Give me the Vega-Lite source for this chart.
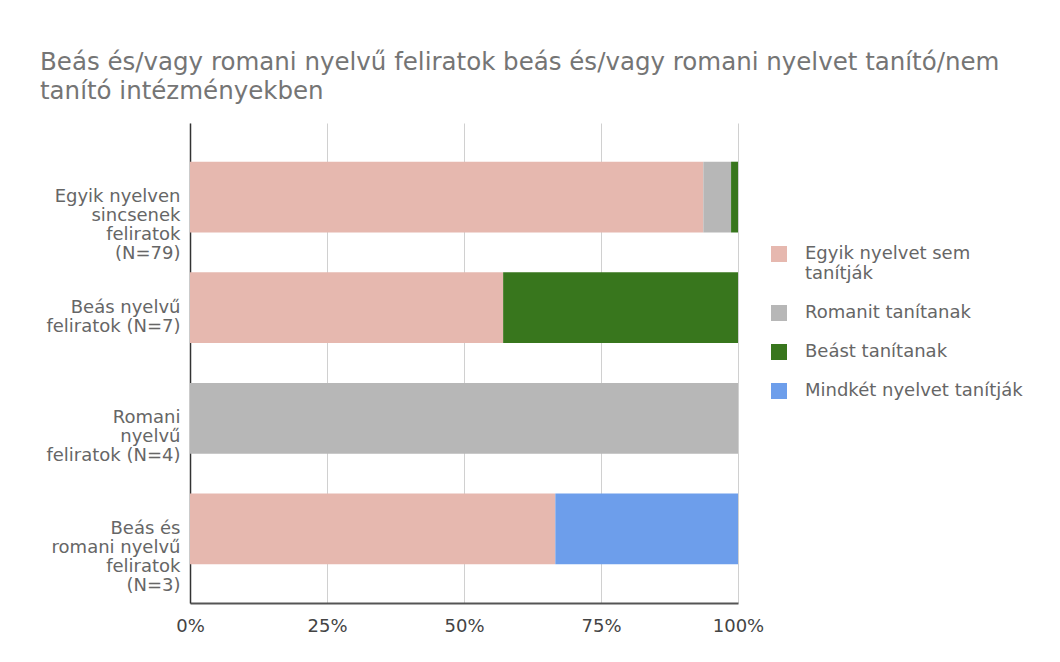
{
  "$schema": "https://vega.github.io/schema/vega-lite/v6.json",
  "width": 548,
  "height": 480,
  "autosize": {"type": "none"},
  "padding": {"left": 190, "top": 123, "right": 322, "bottom": 59},
  "background": "white",
  "config": {
    "font": "DejaVu Sans",
    "view": {"stroke": null}
  },
  "title": {
    "text": ["Beás és/vagy romani nyelvű feliratok beás és/vagy romani nyelvet tanító/nem", "tanító intézményekben"],
    "anchor": "start",
    "frame": "group",
    "font": "DejaVu Sans",
    "fontSize": 24.5,
    "fontWeight": "normal",
    "color": "#757575",
    "lineHeight": 29,
    "dx": -150,
    "offset": 19
  },
  "data": {
    "values": [
      {"kategoria": "Egyik nyelven sincsenek feliratok (N=79)", "tanitas": "Egyik nyelvet sem tanítják", "ord": 1, "db": 74},
      {"kategoria": "Egyik nyelven sincsenek feliratok (N=79)", "tanitas": "Romanit tanítanak", "ord": 2, "db": 4},
      {"kategoria": "Egyik nyelven sincsenek feliratok (N=79)", "tanitas": "Beást tanítanak", "ord": 3, "db": 1},
      {"kategoria": "Beás nyelvű feliratok (N=7)", "tanitas": "Egyik nyelvet sem tanítják", "ord": 1, "db": 4},
      {"kategoria": "Beás nyelvű feliratok (N=7)", "tanitas": "Beást tanítanak", "ord": 3, "db": 3},
      {"kategoria": "Romani nyelvű feliratok (N=4)", "tanitas": "Romanit tanítanak", "ord": 2, "db": 4},
      {"kategoria": "Beás és romani nyelvű feliratok (N=3)", "tanitas": "Egyik nyelvet sem tanítják", "ord": 1, "db": 2},
      {"kategoria": "Beás és romani nyelvű feliratok (N=3)", "tanitas": "Mindkét nyelvet tanítják", "ord": 4, "db": 1}
    ]
  },
  "mark": {"type": "bar"},
  "encoding": {
    "y": {
      "field": "kategoria",
      "type": "nominal",
      "sort": ["Egyik nyelven sincsenek feliratok (N=79)", "Beás nyelvű feliratok (N=7)", "Romani nyelvű feliratok (N=4)", "Beás és romani nyelvű feliratok (N=3)"],
      "scale": {"paddingInner": 0.36, "paddingOuter": 0.35},
      "axis": {
        "title": null,
        "ticks": false,
        "domainColor": "#333333",
        "domainWidth": 1.5,
        "labelFont": "DejaVu Sans",
        "labelFontSize": 18,
        "labelColor": "#666666",
        "labelLineHeight": 19,
        "labelPadding": 10,
        "labelLimit": 300,
        "labelExpr": "datum.value == 'Egyik nyelven sincsenek feliratok (N=79)' ? ['Egyik nyelven', 'sincsenek', 'feliratok', '(N=79)'] : datum.value == 'Beás nyelvű feliratok (N=7)' ? ['Beás nyelvű', 'feliratok (N=7)'] : datum.value == 'Romani nyelvű feliratok (N=4)' ? ['Romani', 'nyelvű', 'feliratok (N=4)'] : ['Beás és', 'romani nyelvű', 'feliratok', '(N=3)']"
      }
    },
    "x": {
      "field": "db",
      "type": "quantitative",
      "stack": "normalize",
      "scale": {"domain": [0, 1], "nice": false},
      "axis": {
        "title": null,
        "format": "%",
        "values": [0, 0.25, 0.5, 0.75, 1],
        "ticks": false,
        "grid": true,
        "gridColor": "#d0d0d0",
        "domainColor": "#555555",
        "domainWidth": 2,
        "labelFont": "DejaVu Sans",
        "labelFontSize": 18,
        "labelColor": "#444444",
        "labelPadding": 14,
        "labelFlush": false
      }
    },
    "color": {
      "field": "tanitas",
      "type": "nominal",
      "scale": {
        "domain": ["Egyik nyelvet sem tanítják", "Romanit tanítanak", "Beást tanítanak", "Mindkét nyelvet tanítják"],
        "range": ["#e6b8af", "#b7b7b7", "#38761d", "#6d9eeb"]
      },
      "legend": {
        "title": null,
        "orient": "none",
        "legendX": 580,
        "legendY": 122,
        "padding": 0,
        "symbolType": "square",
        "symbolSize": 256,
        "symbolStrokeWidth": 0,
        "labelFont": "DejaVu Sans",
        "labelFontSize": 18,
        "labelColor": "#666666",
        "labelLineHeight": 19,
        "labelOffset": 17,
        "labelLimit": 300,
        "rowPadding": 21,
        "labelExpr": "datum.value == 'Egyik nyelvet sem tanítják' ? ['Egyik nyelvet sem', 'tanítják'] : datum.value"
      }
    },
    "order": {"field": "ord", "type": "quantitative"}
  }
}
